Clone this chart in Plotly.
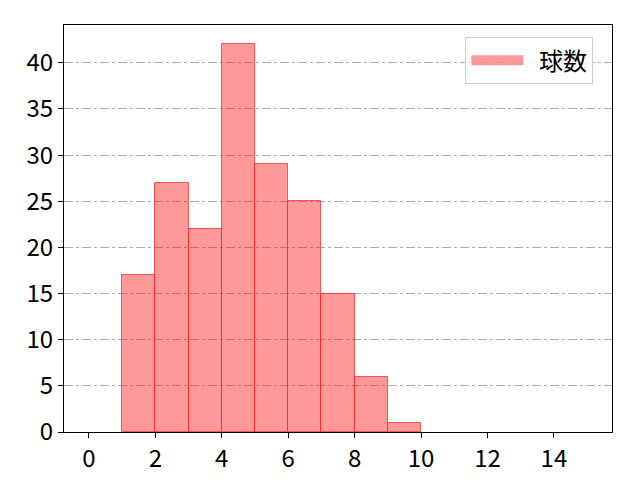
import plotly.graph_objects as go

# histogram bins (left edges) and counts
bin_left = [1, 2, 3, 4, 5, 6, 7, 8, 9]
counts = [17, 27, 22, 42, 29, 25, 15, 6, 1]
series_name = "球数"

fill = "rgba(255,0,0,0.4)"
edge = "rgba(255,40,40,0.75)"

fig = go.Figure()
fig.add_trace(go.Bar(
    x=bin_left, y=counts, width=1, offset=0, name=series_name,
    marker=dict(color=fill, line=dict(color=edge, width=1)),
    showlegend=False,
))
# legend entry only, drawn as a wide patch like matplotlib's
fig.add_trace(go.Scatter(x=[None], y=[None], mode="lines", name="  " + series_name,
                         line=dict(color=fill, width=20)))

font = dict(family="Noto Sans CJK JP", size=24, color="black")
# page body has 8px margin, so the figure is a bit smaller
fig.update_layout(
    width=632, height=472,
    margin=dict(l=56, r=28, t=17, b=48),
    plot_bgcolor="white", paper_bgcolor="white",
    font=font, bargap=0,
    legend=dict(x=0.966, y=0.97, xanchor="right", yanchor="top", itemwidth=52,
                bordercolor="#d0d0d0", borderwidth=1, bgcolor="rgba(255,255,255,0.8)",
                font=dict(family="Noto Sans CJK JP", size=24)),
)
fig.update_xaxes(range=[-0.75, 15.75], tickvals=[0, 2, 4, 6, 8, 10, 12, 14],
                 showline=True, linecolor="black", linewidth=1, mirror=True, automargin=False,
                 ticks="outside", ticklen=5, tickcolor="black", showgrid=False, zeroline=False)
fig.update_yaxes(range=[0, 44.1], tickvals=[0, 5, 10, 15, 20, 25, 30, 35, 40],
                 showline=True, linecolor="black", linewidth=1, mirror=True, automargin=False,
                 ticks="outside", ticklen=5, tickcolor="black",
                 showgrid=True, gridcolor="#b0b0b0", griddash="dashdot", gridwidth=1, zeroline=False)

fig.write_html("out.html")
